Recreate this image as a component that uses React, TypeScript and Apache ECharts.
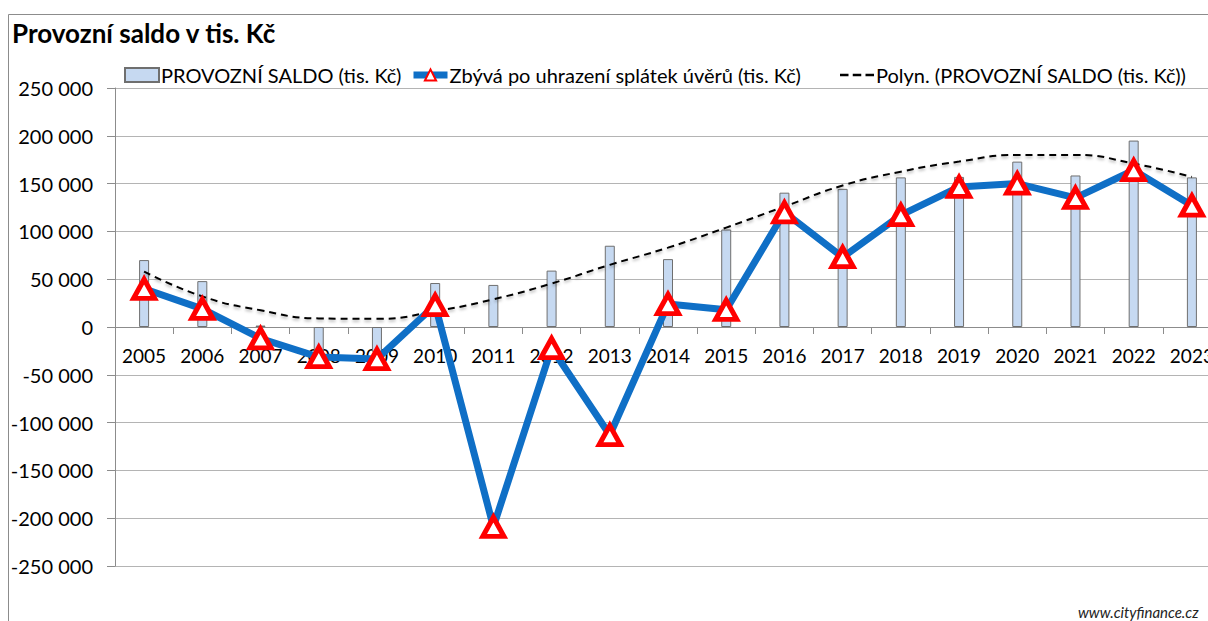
import React, { useEffect, useRef } from "react";
import * as echarts from "echarts";

const years = ["2005","2006","2007","2008","2009","2010","2011","2012","2013","2014","2015","2016","2017","2018","2019","2020","2021","2022","2023"];
const provozniSaldo = [70000, 48000, 1500, -27000, -26000, 46000, 44000, 59000, 85000, 71000, 102000, 140500, 144500, 156500, 157000, 173000, 158500, 195000, 156500];
const zbyva = [40000, 19000, -12000, -31500, -33500, 23000, -209000, -22000, -113000, 24000, 18000, 120000, 73000, 117000, 146500, 150000, 135000, 164000, 127000];
const polyn = [58000, 32000, 17500, 9000, 8500, 16500, 29000, 45500, 65000, 83000, 104000, 126000, 148000, 162500, 173000, 180000, 180000, 171000, 157000];
const yTicks = { min: -250000, max: 250000, interval: 50000 };

const FONT = "Lato";
const S1 = "PROVOZNÍ SALDO (tis. Kč)";
const S2 = "Zbývá po uhrazení splátek úvěrů (tis. Kč)";
const S3 = "Polyn. (PROVOZNÍ SALDO (tis. Kč))";

export default function App() {
  const ref = useRef<HTMLDivElement>(null);
  useEffect(() => {
    const chart = echarts.init(ref.current!, null, { renderer: "svg" });
    const fmt = (v: number) => {
      const s = Math.abs(v).toString().replace(/\B(?=(\d{3})+(?!\d))/g, " ");
      return (v < 0 ? "-" : "") + s;
    };
    const gridTop = 88;
    const gridBottom = 55;
    const gridH = 621 - gridTop - gridBottom;
    const zeroOffset = -gridH * (0 - yTicks.min) / (yTicks.max - yTicks.min);
    const legendBase = {
      top: 60,
      itemWidth: 34,
      itemHeight: 14,
      itemGap: 0,
      textStyle: { fontFamily: FONT, fontSize: 20, color: "#000", padding: [0, 0, 0, -3] },
    };
    chart.setOption({
      animation: false,
      backgroundColor: "#fff",
      textStyle: { fontFamily: FONT },
      graphic: [
        {
          type: "rect",
          shape: { x: 8.5, y: 14.5, width: 1300, height: 700 },
          style: { fill: "none", stroke: "#8c8c8c", lineWidth: 1 },
          silent: true,
          z: -1,
        },
        {
          type: "text",
          left: 12,
          top: 20,
          style: { text: "Provozní saldo v tis. Kč", font: `bold 26px ${FONT}`, fill: "#000" },
        },
        {
          type: "text",
          left: 1078,
          top: 604,
          style: { text: "www.cityfinance.cz", font: `italic 15px ${FONT}`, fill: "#222" },
        },
      ],
      legend: [
        { ...legendBase, left: 119, data: [{ name: S1, icon: "rect" }] },
        {
          ...legendBase,
          left: 405,
          data: [{ name: S2, lineStyle: { width: 7, color: "#0f6fc6" } }],
        },
        {
          ...legendBase,
          left: 835,
          data: [
            {
              name: S3,
              icon: "path://M0,6h8v2.2h-8z M12,6h8v2.2h-8z M24,6h8v2.2h-8z",
              itemStyle: { color: "#000", borderWidth: 0 },
            },
          ],
        },
      ],
      grid: { left: 115, top: gridTop, right: 0, bottom: gridBottom, containLabel: false },
      xAxis: {
        type: "category",
        data: years,
        boundaryGap: true,
        offset: zeroOffset,
        axisLine: { onZero: false, lineStyle: { color: "#8c8c8c", width: 1 } },
        axisTick: { show: true, length: 7, lineStyle: { color: "#8c8c8c" } },
        axisLabel: { fontFamily: FONT, fontSize: 19, color: "#000", margin: 19 },
        splitLine: { show: false },
      },
      yAxis: {
        type: "value",
        min: yTicks.min,
        max: yTicks.max,
        interval: yTicks.interval,
        axisLine: { show: true, lineStyle: { color: "#8c8c8c", width: 1 } },
        axisTick: { show: true, length: 8, lineStyle: { color: "#8c8c8c" } },
        axisLabel: { fontFamily: FONT, fontSize: 20, color: "#000", margin: 22, formatter: fmt },
        splitLine: { show: true, lineStyle: { color: "#b4b4b4", width: 1 } },
      },
      series: [
        {
          name: S1,
          type: "bar",
          data: provozniSaldo,
          barWidth: 10,
          itemStyle: { color: "#c6d9f1", borderColor: "#6f6f6f", borderWidth: 1 },
          z: 1,
        },
        {
          name: S3,
          type: "line",
          data: polyn,
          smooth: 0.5,
          showSymbol: false,
          symbol: "none",
          lineStyle: {
            color: "#000",
            width: 2,
            type: [7, 5],
            shadowColor: "rgba(0,0,0,0.3)",
            shadowBlur: 3,
            shadowOffsetY: 2,
          },
          itemStyle: { color: "#000" },
          z: 2,
        },
        {
          name: S2,
          type: "line",
          data: zbyva,
          symbol: "triangle",
          symbolSize: [21, 19],
          lineStyle: { color: "#0f6fc6", width: 7 },
          itemStyle: { color: "#fff", borderColor: "#ff0000", borderWidth: 5 },
          z: 3,
        },
      ],
    });
    return () => chart.dispose();
  }, []);
  return (
    <div style={{ position: "fixed", left: 0, top: 0, width: 1208, height: 621, overflow: "hidden" }}>
      <div ref={ref} style={{ width: 1221, height: 621 }} />
    </div>
  );
}
